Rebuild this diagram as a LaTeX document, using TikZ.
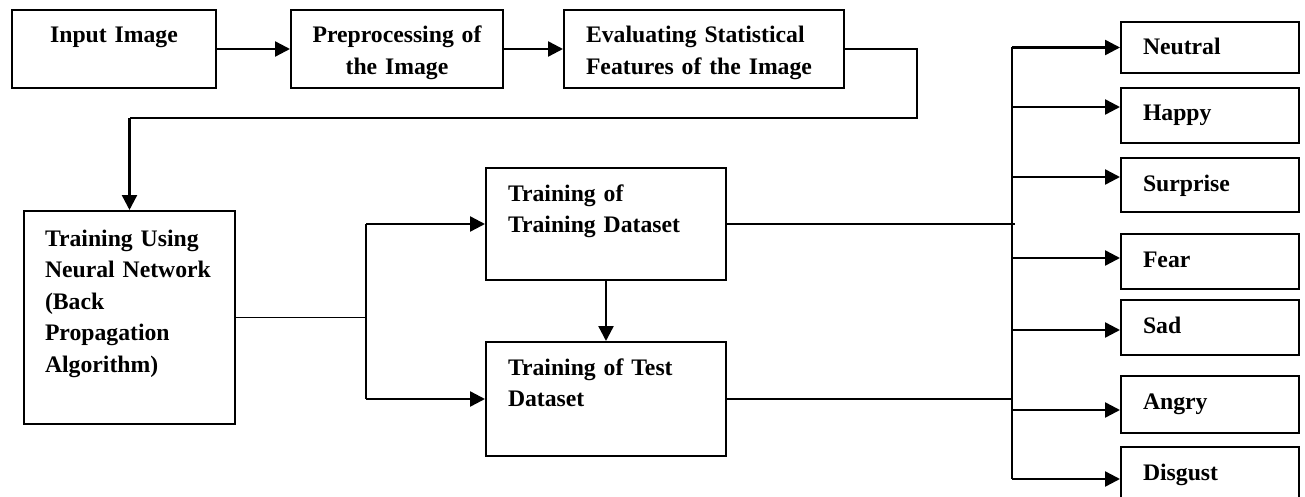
\documentclass[tikz,border=0pt]{standalone}
\usepackage{fontspec}
\setmainfont{Liberation Serif}
\usetikzlibrary{arrows.meta}

\begin{document}
\begin{tikzpicture}[
    x=1pt, y=-1pt,
    >={Triangle[length=15pt,width=15pt]},
    box/.style={draw, line width=2pt, anchor=north west, inner ysep=0pt, inner xsep=22pt,
                align=left, text height=33pt, font=\bfseries\fontsize{23.7}{31.5}\selectfont},
    emobox/.style={box, text width=134pt},
    arr/.style={->, line width=2.4pt},
    conn/.style={line width=1.7pt},
]
\useasboundingbox (0,0) rectangle (1305,497);

% ============ TOP ROW ============
\node[box, align=center, inner xsep=21pt, text width=162pt, text depth=45pt] (input) at (11,9) {Input Image};
\node[box, align=center, inner xsep=10pt, text width=192pt, text depth=45pt] (prep) at (290,9) {Preprocessing of\\the Image};
\node[box, text width=236pt, text depth=45pt] (eval) at (563,9) {Evaluating Statistical\\Features of the Image};

\draw[arr] (input.east) -- (prep.west);
\draw[arr] (prep.east) -- (eval.west);

% ============ NEURAL NETWORK ============
\node[box, inner xsep=21pt, text width=169pt, text height=35pt, text depth=178pt] (nn) at (23,210)
  {Training Using\\Neural Network\\(Back\\Propagation\\Algorithm)};

\coordinate (turn) at (917,118);
\draw[conn] (eval.east) -| (turn) -- (turn -| nn.north);
\draw[arr] (turn -| nn.north) -- (nn.north);

% ============ DATASETS ============
\node[box, text width=196pt, text depth=79pt] (trainds) at (485,167) {Training of\\Training Dataset};
\node[box, text width=196pt, text depth=81pt] (testds) at (485,341) {Training of Test\\Dataset};

\coordinate (split) at (366,0);
\draw[conn] (nn.east) -- (nn.east -| split);
\draw[conn] (split |- trainds.west) -- (split |- testds.west);
\draw[arr] (split |- trainds.west) -- (trainds.west);
\draw[arr] (split |- testds.west) -- (testds.west);
\draw[arr] (trainds.south) -- (testds.north);

% ============ EMOTIONS ============
\node[emobox, text depth=18pt] (neutral) at (1120,21) {Neutral};
\node[emobox, text depth=22pt] (happy) at (1120,87) {Happy};
\node[emobox, text depth=21pt] (surprise) at (1120,157) {Surprise};
\node[emobox, text depth=22pt] (fear) at (1120,233) {Fear};
\node[emobox, text depth=22pt] (sad) at (1120,299) {Sad};
\node[emobox, text depth=24pt] (angry) at (1120,375) {Angry};
\node[emobox, text depth=22pt] (disgust) at (1120,446) {Disgust};

\coordinate (bus) at (1012,0);
\draw[conn] (trainds.east) -- ([xshift=3pt]bus |- trainds.east);
\draw[conn] (testds.east) -- (bus |- testds.east);
\draw[conn] (bus |- neutral.west) -- ([yshift=-4.5pt]bus |- disgust.west);

\draw[arr] (bus |- neutral.west) -- (neutral.west);
\draw[arr] ([yshift=8.5pt]bus |- happy.west) -- ([yshift=8.5pt]happy.west);
\draw[arr] ([yshift=8pt]bus |- surprise.west) -- ([yshift=8pt]surprise.west);
\draw[arr] ([yshift=3.5pt]bus |- fear.west) -- ([yshift=3.5pt]fear.west);
\draw[arr] ([yshift=-2.5pt]bus |- sad.west) -- ([yshift=-2.5pt]sad.west);
\draw[arr] ([yshift=-5.5pt]bus |- angry.west) -- ([yshift=-5.5pt]angry.west);
\draw[arr] ([yshift=-4.5pt]bus |- disgust.west) -- ([yshift=-4.5pt]disgust.west);

\end{tikzpicture}
\end{document}
